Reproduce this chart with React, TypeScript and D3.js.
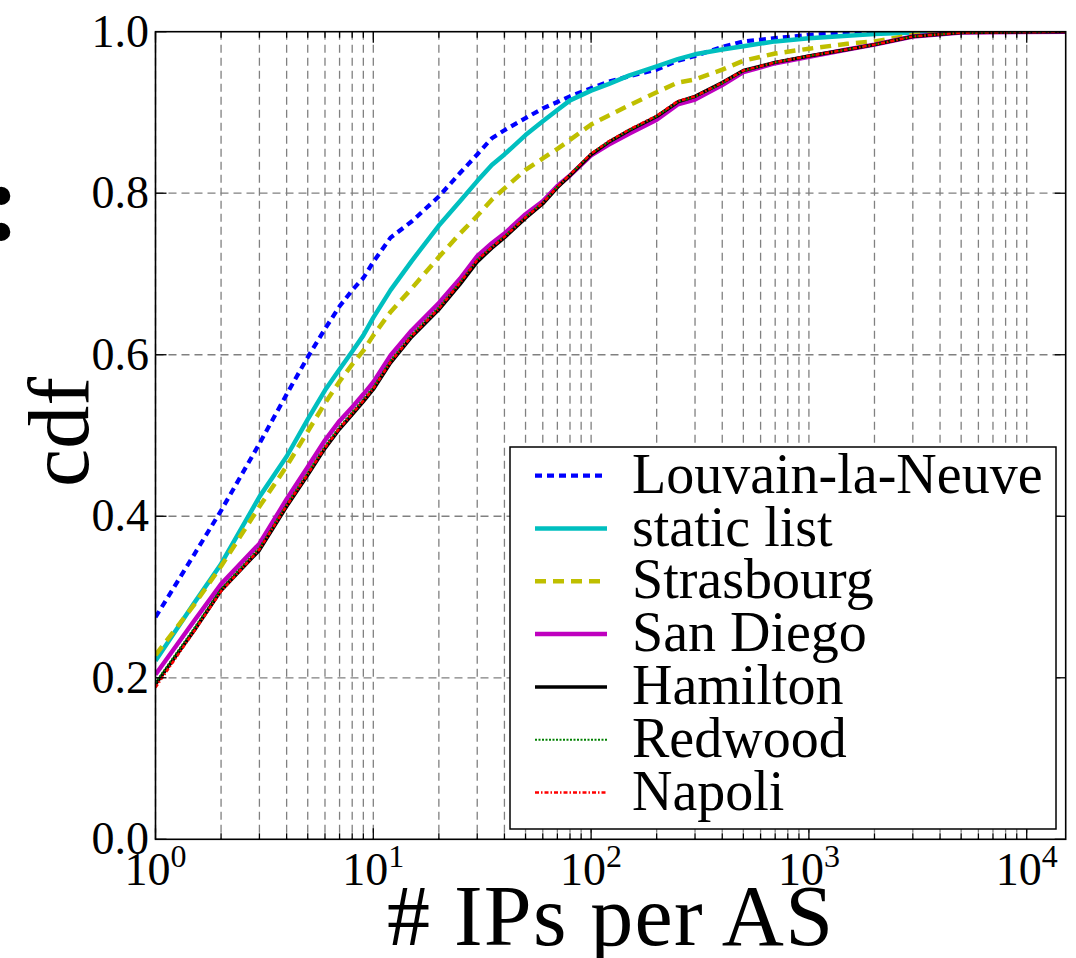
import React from "react";
import * as d3 from "d3";

const xGrid = [1, 1.5, 2, 3, 4, 5, 6, 7, 8, 9, 10, 12, 15, 20, 25, 30, 35, 40, 50, 60, 70, 80, 100, 120, 150, 200, 250, 300, 400, 500, 700, 1000, 1500, 2000, 3000, 5000, 15000];

const louvain = [0.275, 0.352, 0.407, 0.49, 0.551, 0.597, 0.632, 0.66, 0.68, 0.695, 0.715, 0.745, 0.765, 0.796, 0.825, 0.848, 0.868, 0.878, 0.893, 0.905, 0.913, 0.92, 0.93, 0.938, 0.945, 0.953, 0.964, 0.97, 0.981, 0.988, 0.992, 0.996, 0.999, 1.0, 1.0, 1.0, 1.0];
const staticList = [0.221, 0.292, 0.341, 0.424, 0.474, 0.52, 0.556, 0.582, 0.604, 0.624, 0.646, 0.68, 0.716, 0.76, 0.79, 0.815, 0.835, 0.848, 0.872, 0.889, 0.903, 0.915, 0.927, 0.935, 0.946, 0.957, 0.966, 0.972, 0.978, 0.982, 0.988, 0.992, 0.995, 0.997, 0.999, 1.0, 1.0];
const strasbourg = [0.228, 0.29, 0.338, 0.412, 0.462, 0.505, 0.54, 0.567, 0.588, 0.605, 0.624, 0.653, 0.682, 0.721, 0.75, 0.772, 0.792, 0.806, 0.829, 0.843, 0.855, 0.866, 0.885, 0.896, 0.909, 0.925, 0.937, 0.941, 0.953, 0.964, 0.973, 0.979, 0.985, 0.988, 0.996, 1.0, 1.0];
const sanDiego = [0.204, 0.27, 0.316, 0.366, 0.421, 0.461, 0.494, 0.518, 0.535, 0.551, 0.566, 0.599, 0.63, 0.664, 0.694, 0.722, 0.738, 0.75, 0.774, 0.79, 0.809, 0.822, 0.847, 0.86, 0.874, 0.891, 0.91, 0.916, 0.934, 0.95, 0.961, 0.969, 0.978, 0.984, 0.994, 0.999, 1.0];
const hamilton = [0.192, 0.258, 0.308, 0.358, 0.412, 0.451, 0.484, 0.508, 0.526, 0.542, 0.557, 0.59, 0.622, 0.656, 0.687, 0.715, 0.732, 0.745, 0.769, 0.787, 0.807, 0.822, 0.848, 0.863, 0.878, 0.895, 0.913, 0.92, 0.937, 0.952, 0.962, 0.97, 0.978, 0.984, 0.994, 0.999, 1.0];
const redwood = [0.194, 0.261, 0.31, 0.361, 0.415, 0.454, 0.487, 0.511, 0.529, 0.545, 0.56, 0.593, 0.625, 0.659, 0.69, 0.718, 0.734, 0.747, 0.771, 0.789, 0.808, 0.823, 0.849, 0.863, 0.878, 0.895, 0.913, 0.919, 0.936, 0.951, 0.962, 0.97, 0.978, 0.984, 0.994, 0.999, 1.0];
const napoli = [0.188, 0.257, 0.307, 0.359, 0.413, 0.452, 0.485, 0.509, 0.527, 0.543, 0.558, 0.591, 0.623, 0.657, 0.689, 0.717, 0.733, 0.746, 0.77, 0.788, 0.808, 0.823, 0.849, 0.864, 0.879, 0.896, 0.914, 0.92, 0.937, 0.952, 0.962, 0.97, 0.978, 0.984, 0.994, 0.999, 1.0];

const seriesNames = ["Louvain-la-Neuve", "static list", "Strasbourg", "San Diego", "Hamilton", "Redwood", "Napoli"];
const seriesValues = [louvain, staticList, strasbourg, sanDiego, hamilton, redwood, napoli];
const seriesColors = ["#0000ff", "#00bfbf", "#bfbf00", "#bf00bf", "#000000", "#008000", "#ff0000"];
const seriesWidths = [4.2, 4.5, 4.5, 4.5, 3.5, 2, 2.5];
const seriesDash = ["7,5", "", "11,7", "", "", "2,1.5", "4,2,1.5,2"];

const yTicks = [0, 0.2, 0.4, 0.6, 0.8, 1.0];
const yTickLabels = ["0.0", "0.2", "0.4", "0.6", "0.8", "1.0"];
const xMajor = [1, 10, 100, 1000, 10000];
const xMajorExp = ["0", "1", "2", "3", "4"];

const L = 155.5, R = 1065.7, T = 31.7, B = 839.3;
const FONT = "'Liberation Serif', 'DejaVu Serif', serif";

export default function App() {
  const x = d3.scaleLog().domain([1, 15100]).range([L, R]);
  const y = d3.scaleLinear().domain([0, 1]).range([B, T]);

  const minor: number[] = [];
  for (let p = 0; p < 4; p++) for (let m = 2; m <= 9; m++) minor.push(m * Math.pow(10, p));
  const minorIn = minor.filter((v) => v <= 15100);

  const line = d3
    .line<number>()
    .x((_, i) => x(xGrid[i]))
    .y((d) => y(d));

  const legX0 = 535, legX1 = 607, legTextX = 632, legY0 = 475.7, legStep = 52.8;

  return (
    <svg width={1076} height={958} style={{ position: "absolute", left: 0, top: 0, background: "#fff" }}>
      <defs>
        <clipPath id="plot">
          <rect x={L} y={T} width={R - L} height={B - T} />
        </clipPath>
      </defs>
      <rect x={0} y={0} width={1076} height={958} fill="#fff" />
      {/* grid */}
      <g stroke="#808080" strokeWidth={1.3} strokeDasharray="8,5" fill="none">
        {[...xMajor, ...minorIn].map((v, i) => (
          <line key={"gx" + i} x1={x(v)} x2={x(v)} y1={T} y2={B} />
        ))}
        {yTicks.slice(1, -1).map((v, i) => (
          <line key={"gy" + i} x1={L} x2={R} y1={y(v)} y2={y(v)} />
        ))}
      </g>
      {/* series */}
      <g clipPath="url(#plot)" fill="none">
        {seriesValues.map((vals, i) => (
          <path
            key={i}
            d={line(vals) || ""}
            stroke={seriesColors[i]}
            strokeWidth={seriesWidths[i]}
            strokeDasharray={seriesDash[i] || undefined}
            strokeLinejoin="round"
          />
        ))}
      </g>
      {/* ticks */}
      <g stroke="#000" strokeWidth={1.3}>
        {xMajor.map((v, i) => (
          <g key={"mt" + i}>
            <line x1={x(v)} x2={x(v)} y1={B} y2={B - 11} />
            <line x1={x(v)} x2={x(v)} y1={T} y2={T + 11} />
          </g>
        ))}
        {minorIn.map((v, i) => (
          <g key={"nt" + i}>
            <line x1={x(v)} x2={x(v)} y1={B} y2={B - 6} />
            <line x1={x(v)} x2={x(v)} y1={T} y2={T + 6} />
          </g>
        ))}
        {yTicks.map((v, i) => (
          <g key={"yt" + i}>
            <line x1={L} x2={L + 11} y1={y(v)} y2={y(v)} />
            <line x1={R} x2={R - 11} y1={y(v)} y2={y(v)} />
          </g>
        ))}
      </g>
      <rect x={L} y={T} width={R - L} height={B - T} fill="none" stroke="#000" strokeWidth={1.6} />
      {/* tick labels */}
      <g fontFamily={FONT} fill="#000">
        {yTicks.map((v, i) => (
          <text key={"yl" + i} x={149} y={y(v) + 15} fontSize={46} textAnchor="end">
            {yTickLabels[i]}
          </text>
        ))}
        {xMajor.map((v, i) => (
          <text key={"xl" + i} x={x(v)} y={885} fontSize={46} textAnchor="middle">
            10
            <tspan fontSize={32} dy={-18}>
              {xMajorExp[i]}
            </tspan>
          </text>
        ))}
      </g>
      {/* axis labels */}
      <text x={610} y={945} fontFamily={FONT} fontSize={86} textAnchor="middle" textLength={446} lengthAdjust="spacing">
        # IPs per AS
      </text>
      <text transform="translate(88,432) rotate(-90)" fontFamily={FONT} fontSize={86} textAnchor="middle">
        cdf
      </text>
      <text x={-17} y={239} fontFamily={FONT} fontSize={112} fontWeight="bold">
        :
      </text>
      {/* legend */}
      <rect x={510} y={447} width={546} height={382} fill="#fff" stroke="#000" strokeWidth={1.5} />
      {seriesNames.map((name, i) => {
        const ly = legY0 + i * legStep;
        return (
          <g key={"lg" + i}>
            <line
              x1={legX0}
              x2={legX1}
              y1={ly}
              y2={ly}
              stroke={seriesColors[i]}
              strokeWidth={seriesWidths[i]}
              strokeDasharray={seriesDash[i] || undefined}
            />
            <text x={legTextX} y={ly + 17} fontFamily={FONT} fontSize={56}>
              {name}
            </text>
          </g>
        );
      })}
    </svg>
  );
}
